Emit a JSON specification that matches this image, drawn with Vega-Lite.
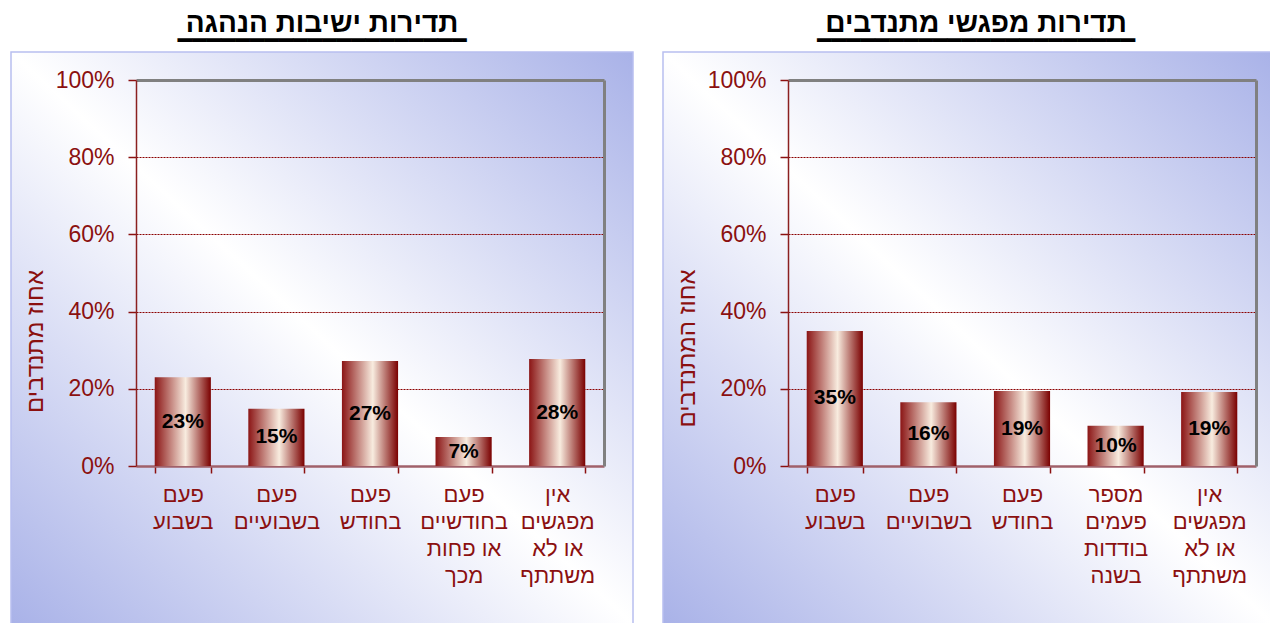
{
  "$schema": "https://vega.github.io/schema/vega-lite/v6.json",
  "padding": {"left": 10, "top": 9, "right": 0, "bottom": 0},
  "background": "white",
  "spacing": 28,
  "config": {
    "font": "Liberation Sans",
    "title": {"font": "Liberation Sans"}
  },
  "hconcat": [
    {
      "width": 622,
      "height": 572,
      "title": {
        "text": "תדירות ישיבות הנהגה",
        "subtitle": "▔▔▔▔▔▔▔▔▔▔▔▔▔▔▔▔▔▔▔▔",
        "anchor": "middle",
        "frame": "group",
        "font": "Liberation Sans",
        "fontSize": 28,
        "fontWeight": "bold",
        "color": "black",
        "subtitleFont": "DejaVu Sans Mono",
        "subtitleFontSize": 24,
        "subtitleColor": "black",
        "subtitlePadding": 3.5,
        "offset": -13.5
      },
      "view": {
        "fill": {"gradient": "linear", "x1": 1, "y1": 0, "x2": 0, "y2": 1,
          "stops": [{"offset": 0, "color": "#a9b2e8"}, {"offset": 0.5, "color": "#ffffff"}, {"offset": 1, "color": "#a9b2e8"}]},
        "stroke": "#b8bff0",
        "strokeWidth": 1.5
      },
      "data": {"values": [
        {"cat": "פעם|בשבוע", "v": 0.23, "lbl": "23%"},
        {"cat": "פעם|בשבועיים", "v": 0.148, "lbl": "15%"},
        {"cat": "פעם|בחודש", "v": 0.272, "lbl": "27%"},
        {"cat": "פעם|בחודשיים|או פחות|מכך", "v": 0.075, "lbl": "7%"},
        {"cat": "אין|מפגשים|או לא|משתתף", "v": 0.277, "lbl": "28%"}
      ]},
      "layer": [
        {
          "mark": {"type": "bar", "fill": {"gradient": "linear", "x1": 0, "y1": 0, "x2": 1, "y2": 0,
            "stops": [{"offset": 0, "color": "#8b1515"}, {"offset": 0.55, "color": "#f8ecdf"}, {"offset": 1, "color": "#7a0000"}]}},
          "encoding": {
            "x": {"field": "cat", "type": "nominal", "sort": null,
              "scale": {"range": [125, 593], "paddingInner": 0.4, "paddingOuter": 0.2},
              "axis": {"orient": "bottom", "offset": -158, "tickBand": "extent", "tickSize": 7, "tickColor": "#8b1010", "tickWidth": 1.5,
                "domainColor": "#a0606a", "domainWidth": 2.5, "labelFont": "Liberation Sans", "labelFontSize": 22, "labelColor": "#8b1010", "labelPadding": 11,
                "labelLineHeight": 27, "labelAngle": 0, "labelBaseline": "top", "labelExpr": "split(datum.label, '|')", "title": null, "grid": false}},
            "y": {"field": "v", "type": "quantitative",
              "scale": {"domain": [0, 1], "range": [414, 28], "nice": false, "zero": false},
              "axis": {"values": [0, 0.2, 0.4, 0.6, 0.8, 1], "format": ".0%", "offset": -125, "labelFont": "Liberation Sans", "labelFontSize": 23, "labelColor": "#8b1010",
                "labelPadding": 14, "labelFlush": false, "labelOverlap": false, "tickSize": 8, "tickColor": "#8b1010", "tickWidth": 1.5,
                "domainColor": "#8b2020", "domainWidth": 1.5, "grid": true,
                "gridColor": {"condition": {"test": "datum.value === 1", "value": "#808080"}, "value": "#8b0000"},
                "gridDash": {"condition": {"test": "datum.value === 1", "value": []}, "value": [2, 1]},
                "gridWidth": {"condition": {"test": "datum.value === 1", "value": 3}, "value": 1},
                "gridOpacity": {"condition": {"test": "datum.value === 0", "value": 0}, "value": 1},
                "title": "אחוז מתנדבים", "titleFont": "Liberation Sans", "titleFontSize": 24, "titleFontWeight": "normal", "titleColor": "#8b1010",
                "titleAngle": -90, "titleX": -101, "titleY": 289, "titleAlign": "center", "titleBaseline": "middle"}}
          }
        },
        {
          "mark": {"type": "text", "font": "Liberation Sans", "fontSize": 21, "fontWeight": "bold", "color": "black", "baseline": "middle", "align": "center"},
          "encoding": {
            "x": {"field": "cat", "type": "nominal", "sort": null},
            "y": {"field": "v", "type": "quantitative",
              "scale": {"domain": [0, 2], "range": [414, 28], "nice": false, "zero": false},
              "axis": {"orient": "right", "offset": -29, "labels": false, "ticks": false, "grid": false, "domainColor": "#808080", "domainWidth": 3, "title": null}},
            "text": {"field": "lbl"}
          }
        }
      ],
      "resolve": {"scale": {"y": "independent"}}
    },
    {
      "width": 610,
      "height": 572,
      "title": {
        "text": "תדירות מפגשי מתנדבים",
        "subtitle": "▔▔▔▔▔▔▔▔▔▔▔▔▔▔▔▔▔▔▔▔▔▔",
        "anchor": "middle",
        "frame": "group",
        "dx": 8,
        "font": "Liberation Sans",
        "fontSize": 28,
        "fontWeight": "bold",
        "color": "black",
        "subtitleFont": "DejaVu Sans Mono",
        "subtitleFontSize": 24,
        "subtitleColor": "black",
        "subtitlePadding": 3.5,
        "offset": -13.5
      },
      "view": {
        "fill": {"gradient": "linear", "x1": 1, "y1": 0, "x2": 0, "y2": 1,
          "stops": [{"offset": 0, "color": "#a9b2e8"}, {"offset": 0.5, "color": "#ffffff"}, {"offset": 1, "color": "#a9b2e8"}]},
        "stroke": "#b8bff0",
        "strokeWidth": 1.5
      },
      "data": {"values": [
        {"cat": "פעם|בשבוע", "v": 0.35, "lbl": "35%"},
        {"cat": "פעם|בשבועיים", "v": 0.165, "lbl": "16%"},
        {"cat": "פעם|בחודש", "v": 0.194, "lbl": "19%"},
        {"cat": "מספר|פעמים|בודדות|בשנה", "v": 0.104, "lbl": "10%"},
        {"cat": "אין|מפגשים|או לא|משתתף", "v": 0.192, "lbl": "19%"}
      ]},
      "layer": [
        {
          "mark": {"type": "bar", "fill": {"gradient": "linear", "x1": 0, "y1": 0, "x2": 1, "y2": 0,
            "stops": [{"offset": 0, "color": "#8b1515"}, {"offset": 0.55, "color": "#f8ecdf"}, {"offset": 1, "color": "#7a0000"}]}},
          "encoding": {
            "x": {"field": "cat", "type": "nominal", "sort": null,
              "scale": {"range": [125, 593], "paddingInner": 0.4, "paddingOuter": 0.2},
              "axis": {"orient": "bottom", "offset": -158, "tickBand": "extent", "tickSize": 7, "tickColor": "#8b1010", "tickWidth": 1.5,
                "domainColor": "#a0606a", "domainWidth": 2.5, "labelFont": "Liberation Sans", "labelFontSize": 22, "labelColor": "#8b1010", "labelPadding": 11,
                "labelLineHeight": 27, "labelAngle": 0, "labelBaseline": "top", "labelExpr": "split(datum.label, '|')", "title": null, "grid": false}},
            "y": {"field": "v", "type": "quantitative",
              "scale": {"domain": [0, 1], "range": [414, 28], "nice": false, "zero": false},
              "axis": {"values": [0, 0.2, 0.4, 0.6, 0.8, 1], "format": ".0%", "offset": -125, "labelFont": "Liberation Sans", "labelFontSize": 23, "labelColor": "#8b1010",
                "labelPadding": 14, "labelFlush": false, "labelOverlap": false, "tickSize": 8, "tickColor": "#8b1010", "tickWidth": 1.5,
                "domainColor": "#8b2020", "domainWidth": 1.5, "grid": true,
                "gridColor": {"condition": {"test": "datum.value === 1", "value": "#808080"}, "value": "#8b0000"},
                "gridDash": {"condition": {"test": "datum.value === 1", "value": []}, "value": [2, 1]},
                "gridWidth": {"condition": {"test": "datum.value === 1", "value": 3}, "value": 1},
                "gridOpacity": {"condition": {"test": "datum.value === 0", "value": 0}, "value": 1},
                "title": "אחוז המתנדבים", "titleFont": "Liberation Sans", "titleFontSize": 24, "titleFontWeight": "normal", "titleColor": "#8b1010",
                "titleAngle": -90, "titleX": -101, "titleY": 296, "titleAlign": "center", "titleBaseline": "middle"}}
          }
        },
        {
          "mark": {"type": "text", "font": "Liberation Sans", "fontSize": 21, "fontWeight": "bold", "color": "black", "baseline": "middle", "align": "center"},
          "encoding": {
            "x": {"field": "cat", "type": "nominal", "sort": null},
            "y": {"field": "v", "type": "quantitative",
              "scale": {"domain": [0, 2], "range": [414, 28], "nice": false, "zero": false},
              "axis": {"orient": "right", "offset": -17, "labels": false, "ticks": false, "grid": false, "domainColor": "#808080", "domainWidth": 3, "title": null}},
            "text": {"field": "lbl"}
          }
        }
      ],
      "resolve": {"scale": {"y": "independent"}}
    }
  ]
}
